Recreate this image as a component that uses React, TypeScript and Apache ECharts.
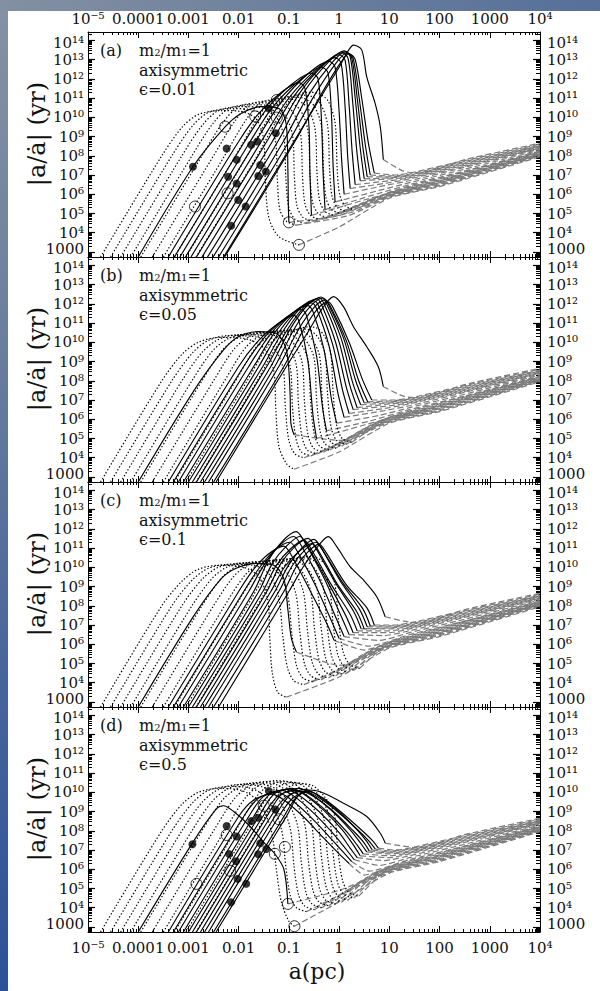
import React, { useEffect, useRef } from "react";
import * as echarts from "echarts";

// ---------- tick labels ----------
const X_TICK_LABELS = ["10⁻⁵", "0.0001", "0.001", "0.01", "0.1", "1", "10", "100", "1000", "10⁴"]; // log a = -5..4
const Y_TICK_LABELS = ["1000", "10⁴", "10⁵", "10⁶", "10⁷", "10⁸", "10⁹", "10¹⁰", "10¹¹", "10¹²", "10¹³", "10¹⁴"]; // log t = 3..14
const PANEL_LETTERS = ["(a)", "(b)", "(c)", "(d)"];
const PANEL_EPS = ["ϵ=0.01", "ϵ=0.05", "ϵ=0.1", "ϵ=0.5"];

// axis extents (log10 units)
const LOG_X_MIN = -5;
const LOG_X_MAX = 4;
const LOG_Y_MIN = 2.74;
const LOG_Y_MAX = 14.43;

// ---------- curves: flat lists of (log a, log |a/ȧ|) pairs ----------
const A_DOTTED = [
  [-4.75,2.74,-3.53,8.0,-3.12,9.5,-2.8,10.15,-2.35,10.35,-1.95,10.3,-1.65,9.9,-1.5,8.8,-1.47,6.8,-1.4,4.8,-1.2,3.8,-0.8,3.37],
  [-4.55,2.74,-3.33,8.0,-2.92,9.55,-2.6,10.25,-2.15,10.45,-1.75,10.4,-1.45,10.0,-1.27,8.8,-1.23,6.8,-1.18,5.2,-1.05,4.6,-0.85,4.4],
  [-4.35,2.74,-3.13,8.0,-2.72,9.6,-2.4,10.35,-1.95,10.55,-1.55,10.5,-1.27,10.1,-1.1,9.0,-1.06,6.8,-1.0,5.3,-0.88,4.7,-0.7,4.5],
  [-4.15,2.74,-2.93,8.0,-2.52,9.65,-2.2,10.45,-1.75,10.65,-1.38,10.6,-1.1,10.2,-0.93,9.1,-0.89,6.9,-0.84,5.4,-0.72,4.8,-0.55,4.6],
  [-3.95,2.74,-2.73,8.0,-2.32,9.7,-2.0,10.55,-1.55,10.75,-1.2,10.7,-0.93,10.3,-0.77,9.2,-0.73,7.0,-0.68,5.5,-0.57,4.9,-0.4,4.7],
  [-3.72,2.74,-2.5,8.0,-2.09,9.75,-1.78,10.65,-1.35,10.85,-1.03,10.8,-0.78,10.4,-0.62,9.3,-0.58,7.0,-0.53,5.6,-0.42,5.0,-0.25,4.8],
  [-3.5,2.74,-2.28,8.0,-1.87,9.8,-1.56,10.75,-1.15,10.95,-0.87,10.9,-0.63,10.5,-0.48,9.4,-0.44,7.1,-0.39,5.7,-0.28,5.1,-0.1,4.9],
  [-3.28,2.74,-2.06,8.0,-1.65,9.85,-1.34,10.85,-0.95,11.05,-0.72,11.0,-0.5,10.6,-0.35,9.5,-0.31,7.2,-0.26,5.8,-0.15,5.2,0.03,5.0],
  [-3.05,2.74,-1.83,8.0,-1.42,9.9,-1.12,10.95,-0.78,11.15,-0.57,11.1,-0.37,10.7,-0.23,9.6,-0.19,7.3,-0.14,5.9,-0.03,5.3,0.15,5.1],
  [-2.85,2.74,-1.63,8.0,-1.22,9.95,-0.92,11.05,-0.6,11.3,-0.42,11.25,-0.22,10.85,-0.08,9.7,-0.04,7.4,0.01,6.0,0.12,5.4,0.3,5.2],
];
const A_SOLID = [
  [-4.0,2.74,-2.91,7.43,-2.27,9.5,-1.95,10.2,-1.55,10.55,-1.2,10.45,-1.05,9.6,-1.02,7.3,-1.01,5.3,-1.0,4.54],
  [-3.4,2.74,-2.0,8.74,-1.6,10.2,-1.15,11.3,-0.8,11.8,-0.68,11.5,-0.6,9.5,-0.58,7.0,-0.55,4.9],
  [-3.28,2.74,-1.88,8.74,-1.45,10.4,-0.95,11.7,-0.55,12.3,-0.42,12.0,-0.35,9.8,-0.32,7.2,-0.28,5.2],
  [-3.17,2.74,-1.77,8.74,-1.3,10.6,-0.75,12.0,-0.35,12.6,-0.22,12.3,-0.15,10.0,-0.12,7.5,-0.08,5.6],
  [-3.06,2.74,-1.66,8.74,-1.15,10.8,-0.6,12.3,-0.2,12.9,-0.08,12.6,0.0,10.3,0.05,7.8,0.1,6.0],
  [-2.95,2.74,-1.55,8.74,-1.0,11.0,-0.45,12.5,-0.08,13.1,0.04,12.8,0.12,10.5,0.17,8.0,0.22,6.3],
  [-2.84,2.74,-1.44,8.74,-0.9,11.1,-0.35,12.65,0.0,13.25,0.12,12.95,0.2,10.6,0.26,8.2,0.32,6.5],
  [-2.73,2.74,-1.33,8.74,-0.8,11.2,-0.28,12.8,0.06,13.35,0.18,13.05,0.27,10.8,0.35,8.3,0.42,6.7],
  [-2.62,2.74,-1.22,8.74,-0.7,11.3,-0.2,12.9,0.1,13.45,0.22,13.15,0.32,11.0,0.42,8.4,0.5,6.8],
  [-2.51,2.74,-1.11,8.74,-0.6,11.2,-0.12,12.9,0.13,13.4,0.25,13.1,0.36,11.0,0.47,8.5,0.56,6.9],
  [-2.4,2.74,-1.0,8.74,-0.5,11.1,-0.05,12.85,0.16,13.35,0.28,13.05,0.4,11.0,0.52,8.6,0.62,7.0],
  [-2.28,2.74,-0.88,8.74,-0.4,11.0,0.02,12.8,0.2,13.3,0.32,13.0,0.45,11.0,0.58,8.7,0.7,7.1],
  [-2.3,2.74,-0.9,8.74,-0.4,10.9,0.0,12.6,0.18,13.45,0.285,13.75,0.45,13.5,0.55,12.1,0.72,10.7,0.82,9.5,0.88,7.8],
];
const A_FILLED = [[-2.91,7.43],[-2.24,8.38],[-2.04,7.79],[-1.75,8.57],[-1.63,8.74],[-2.21,6.91],[-2.04,6.56],[-2.01,5.7],[-1.86,5.36],[-2.15,4.36],[-1.57,7.52],[-1.46,7.18],[-1.61,6.95],[-1.4,10.45],[-1.26,9.17]];
const A_OPEN = [[-2.27,9.51],[-2.87,5.36],[-2.22,6.05],[-1.67,10.04],[-1.24,9.98],[-1.24,10.9],[-1.0,4.54],[-0.8,3.37]];

const B_DOTTED = [
  [-4.75,2.74,-3.53,8.0,-3.12,9.4,-2.8,10.0,-2.4,10.25,-1.9,10.2,-1.5,9.7,-1.3,8.5,-1.26,6.5,-1.2,4.6,-1.05,3.7,-0.9,3.4],
  [-4.55,2.74,-3.33,8.0,-2.92,9.45,-2.6,10.1,-2.2,10.35,-1.7,10.3,-1.35,9.9,-1.12,8.7,-1.07,6.6,-1.0,4.9,-0.88,4.2,-0.7,4.0],
  [-4.35,2.74,-3.13,8.0,-2.72,9.5,-2.4,10.15,-2.0,10.4,-1.5,10.35,-1.2,9.95,-0.98,8.8,-0.93,6.7,-0.86,5.0,-0.75,4.3,-0.55,4.1],
  [-4.15,2.74,-2.93,8.0,-2.52,9.55,-2.2,10.2,-1.8,10.45,-1.35,10.4,-1.07,10.0,-0.86,8.9,-0.81,6.8,-0.74,5.1,-0.63,4.4,-0.43,4.2],
  [-3.95,2.74,-2.73,8.0,-2.32,9.6,-2.0,10.25,-1.6,10.5,-1.2,10.45,-0.94,10.05,-0.74,9.0,-0.69,6.9,-0.62,5.2,-0.51,4.5,-0.3,4.3],
  [-3.72,2.74,-2.5,8.0,-2.09,9.65,-1.78,10.3,-1.4,10.55,-1.05,10.5,-0.81,10.1,-0.62,9.1,-0.57,7.0,-0.5,5.3,-0.39,4.6,-0.18,4.4],
  [-3.5,2.74,-2.28,8.0,-1.87,9.7,-1.56,10.35,-1.2,10.6,-0.9,10.55,-0.68,10.15,-0.5,9.2,-0.45,7.1,-0.38,5.4,-0.27,4.7,-0.06,4.5],
  [-3.28,2.74,-2.06,8.0,-1.65,9.75,-1.34,10.4,-1.0,10.65,-0.75,10.6,-0.55,10.2,-0.39,9.3,-0.34,7.2,-0.27,5.5,-0.16,4.8,0.05,4.6],
  [-3.05,2.74,-1.83,8.0,-1.42,9.8,-1.12,10.45,-0.8,10.7,-0.6,10.65,-0.42,10.25,-0.28,9.4,-0.23,7.3,-0.16,5.6,-0.05,4.9,0.15,4.7],
  [-2.85,2.74,-1.63,8.0,-1.22,9.85,-0.92,10.55,-0.62,10.8,-0.45,10.75,-0.3,10.35,-0.17,9.5,-0.12,7.4,-0.05,5.7,0.06,5.0,0.25,4.8],
];
const B_SOLID = [
  [-4.0,2.74,-2.9,7.45,-2.3,9.6,-2.0,10.3,-1.6,10.55,-1.25,10.45,-1.05,9.6,-0.98,7.6,-0.96,5.8,-0.9,5.2],
  [-3.4,2.74,-2.0,8.74,-1.6,10.1,-1.2,11.0,-0.9,11.4,-0.8,11.1,-0.62,9.0,-0.52,6.2,-0.45,5.0],
  [-3.3,2.74,-1.9,8.74,-1.47,10.3,-1.05,11.3,-0.75,11.7,-0.65,11.4,-0.45,9.3,-0.33,6.6,-0.25,5.4],
  [-3.2,2.74,-1.8,8.74,-1.36,10.45,-0.94,11.5,-0.62,11.9,-0.52,11.6,-0.3,9.6,-0.15,7.0,-0.05,5.8],
  [-3.1,2.74,-1.7,8.74,-1.27,10.55,-0.86,11.65,-0.55,12.05,-0.45,11.75,-0.2,9.8,-0.02,7.3,0.1,6.1],
  [-3.0,2.74,-1.6,8.74,-1.18,10.6,-0.8,11.75,-0.5,12.15,-0.4,11.85,-0.13,9.9,0.07,7.5,0.2,6.3],
  [-2.92,2.74,-1.52,8.74,-1.1,10.65,-0.74,11.85,-0.45,12.25,-0.35,11.95,-0.07,10.0,0.14,7.7,0.28,6.5],
  [-2.84,2.74,-1.44,8.74,-1.02,10.7,-0.67,11.9,-0.4,12.3,-0.3,12.0,-0.01,10.1,0.21,7.8,0.36,6.6],
  [-2.76,2.74,-1.36,8.74,-0.96,10.75,-0.62,11.95,-0.36,12.35,-0.26,12.05,0.04,10.2,0.27,7.9,0.43,6.75],
  [-2.68,2.74,-1.28,8.74,-0.88,10.75,-0.56,11.9,-0.32,12.3,-0.22,12.0,0.09,10.2,0.33,8.0,0.5,6.85],
  [-2.6,2.74,-1.2,8.74,-0.8,10.7,-0.5,11.8,-0.28,12.2,-0.18,11.9,0.14,10.1,0.39,8.0,0.57,6.9],
  [-2.5,2.74,-1.1,8.74,-0.72,10.6,-0.44,11.7,-0.22,12.1,-0.12,11.8,0.2,10.0,0.46,8.1,0.65,7.0],
  [-2.45,2.74,-1.05,8.74,-0.65,10.4,-0.35,11.7,-0.11,12.37,0.086,11.85,0.286,10.81,0.55,9.77,0.78,8.73,0.88,7.69],
];

const C_DOTTED = [
  [-4.75,2.74,-3.53,8.0,-3.12,9.3,-2.8,9.9,-2.4,10.1,-1.9,10.0,-1.6,9.5,-1.42,8.3,-1.38,6.3,-1.33,4.5,-1.22,3.5,-1.05,3.25],
  [-4.55,2.74,-3.33,8.0,-2.92,9.35,-2.6,9.95,-2.2,10.15,-1.7,10.1,-1.38,9.6,-1.2,8.4,-1.12,6.4,-1.03,4.8,-0.9,4.1,-0.7,3.9],
  [-4.35,2.74,-3.13,8.0,-2.72,9.4,-2.4,10.0,-2.0,10.2,-1.5,10.15,-1.2,9.7,-1.02,8.5,-0.94,6.5,-0.85,4.9,-0.72,4.25,-0.52,4.05],
  [-4.15,2.74,-2.93,8.0,-2.52,9.45,-2.2,10.05,-1.8,10.25,-1.33,10.2,-1.05,9.75,-0.86,8.6,-0.78,6.6,-0.69,5.0,-0.56,4.35,-0.36,4.15],
  [-3.95,2.74,-2.73,8.0,-2.32,9.5,-2.0,10.1,-1.6,10.3,-1.17,10.25,-0.9,9.8,-0.71,8.7,-0.63,6.7,-0.54,5.1,-0.41,4.45,-0.21,4.25],
  [-3.72,2.74,-2.5,8.0,-2.09,9.55,-1.78,10.15,-1.4,10.35,-1.02,10.3,-0.76,9.85,-0.57,8.8,-0.49,6.8,-0.4,5.2,-0.27,4.55,-0.07,4.35],
  [-3.5,2.74,-2.28,8.0,-1.87,9.6,-1.56,10.2,-1.2,10.4,-0.87,10.35,-0.62,9.9,-0.44,8.9,-0.36,6.9,-0.27,5.3,-0.14,4.65,0.06,4.45],
  [-3.28,2.74,-2.06,8.0,-1.65,9.65,-1.34,10.25,-1.0,10.45,-0.72,10.4,-0.49,9.95,-0.32,9.0,-0.24,7.0,-0.15,5.4,-0.02,4.75,0.18,4.55],
  [-3.05,2.74,-1.83,8.0,-1.42,9.7,-1.12,10.3,-0.82,10.5,-0.58,10.45,-0.37,10.0,-0.2,9.1,-0.12,7.1,-0.03,5.5,0.1,4.85,0.3,4.65],
  [-2.85,2.74,-1.63,8.0,-1.22,9.75,-0.92,10.35,-0.65,10.55,-0.44,10.5,-0.25,10.05,-0.09,9.2,-0.01,7.2,0.08,5.6,0.21,4.95,0.41,4.75],
];
const C_SOLID = [
  [-4.0,2.74,-2.9,7.45,-2.35,9.4,-2.05,9.95,-1.65,10.2,-1.3,10.1,-1.1,9.4,-1.02,7.8,-0.95,6.3,-0.85,5.6],
  [-3.4,2.74,-2.0,8.74,-1.7,9.9,-1.4,10.7,-1.1,11.1,-0.98,10.75,-0.6,8.9,-0.25,7.1,-0.1,6.2],
  [-3.3,2.74,-1.9,8.74,-1.58,10.0,-1.28,10.9,-0.98,11.3,-0.86,10.95,-0.48,9.1,-0.15,7.2,0.0,6.3],
  [-3.2,2.74,-1.8,8.74,-1.5,10.1,-1.2,11.1,-0.9,11.6,-0.78,11.25,-0.4,9.4,-0.05,7.3,0.1,6.4],
  [-3.1,2.74,-1.7,8.74,-1.42,10.3,-1.13,11.35,-0.85,11.85,-0.73,11.5,-0.33,9.6,0.05,7.4,0.2,6.5],
  [-3.0,2.74,-1.6,8.74,-1.33,10.2,-1.05,11.1,-0.78,11.6,-0.66,11.25,-0.26,9.4,0.13,7.5,0.28,6.6],
  [-2.92,2.74,-1.52,8.74,-1.25,10.1,-0.97,10.95,-0.7,11.41,-0.58,11.05,-0.18,9.2,0.21,7.6,0.36,6.7],
  [-2.84,2.74,-1.44,8.74,-1.17,10.15,-0.89,11.05,-0.62,11.5,-0.5,11.15,-0.1,9.3,0.29,7.7,0.44,6.8],
  [-2.76,2.74,-1.36,8.74,-1.09,10.0,-0.81,10.8,-0.54,11.23,-0.42,10.9,-0.03,9.1,0.35,7.7,0.5,6.8],
  [-2.68,2.74,-1.28,8.74,-1.01,10.1,-0.74,11.0,-0.5,11.45,-0.38,11.1,0.02,9.3,0.41,7.8,0.56,6.9],
  [-2.6,2.74,-1.2,8.74,-0.94,10.05,-0.68,10.9,-0.46,11.3,-0.34,10.95,0.07,9.2,0.47,7.85,0.62,6.95],
  [-2.5,2.74,-1.1,8.74,-0.86,10.0,-0.62,10.8,-0.4,11.2,-0.28,10.85,0.14,9.1,0.55,7.9,0.7,7.0],
  [-2.4,2.74,-1.0,8.74,-0.72,10.0,-0.45,11.0,-0.213,11.59,-0.047,11.07,0.219,10.03,0.485,9.34,0.75,8.47,0.917,7.43],
];

const D_DOTTED = [
  [-4.75,2.74,-3.53,8.0,-3.12,9.4,-2.8,10.0,-2.4,10.2,-1.95,10.1,-1.6,9.5,-1.35,8.0,-1.25,6.0,-1.15,4.3,-1.0,3.3,-0.89,3.04],
  [-4.55,2.74,-3.33,8.0,-2.92,9.45,-2.6,10.1,-2.2,10.3,-1.75,10.2,-1.4,9.6,-1.15,8.1,-1.06,6.1,-0.97,4.6,-0.85,4.0,-0.65,3.8],
  [-4.35,2.74,-3.13,8.0,-2.72,9.5,-2.4,10.15,-2.0,10.4,-1.55,10.3,-1.22,9.7,-0.98,8.2,-0.9,6.2,-0.81,4.7,-0.69,4.1,-0.49,3.9],
  [-4.15,2.74,-2.93,8.0,-2.52,9.55,-2.2,10.2,-1.85,10.45,-1.4,10.35,-1.08,9.75,-0.83,8.3,-0.75,6.3,-0.66,4.8,-0.54,4.2,-0.34,4.0],
  [-3.95,2.74,-2.73,8.0,-2.32,9.6,-2.0,10.25,-1.68,10.5,-1.25,10.4,-0.94,9.8,-0.69,8.4,-0.61,6.4,-0.52,4.9,-0.4,4.3,-0.2,4.1],
  [-3.72,2.74,-2.5,8.0,-2.09,9.65,-1.8,10.3,-1.5,10.55,-1.1,10.45,-0.8,9.85,-0.56,8.5,-0.48,6.5,-0.39,5.0,-0.27,4.4,-0.07,4.2],
  [-3.5,2.74,-2.28,8.0,-1.87,9.7,-1.6,10.35,-1.3,10.6,-0.95,10.5,-0.66,9.9,-0.43,8.6,-0.35,6.6,-0.26,5.1,-0.14,4.5,0.06,4.3],
  [-3.28,2.74,-2.06,8.0,-1.65,9.75,-1.4,10.35,-1.12,10.55,-0.8,10.45,-0.53,9.9,-0.31,8.7,-0.23,6.7,-0.14,5.2,-0.02,4.6,0.18,4.4],
  [-3.05,2.74,-1.83,8.0,-1.42,9.8,-1.2,10.3,-0.95,10.5,-0.66,10.4,-0.41,9.85,-0.2,8.8,-0.12,6.8,-0.03,5.3,0.09,4.7,0.29,4.5],
  [-2.85,2.74,-1.63,8.0,-1.22,9.85,-1.02,10.25,-0.8,10.45,-0.53,10.35,-0.3,9.8,-0.1,8.9,-0.02,6.9,0.07,5.4,0.19,4.8,0.39,4.6],
];
const D_SOLID = [
  [-4.0,2.74,-2.9,7.45,-2.44,9.15,-2.3,9.3,-2.1,9.0,-1.8,8.3,-1.5,7.4,-1.28,6.8,-1.1,6.0,-1.02,4.2],
  [-3.4,2.74,-2.0,8.74,-1.7,9.6,-1.35,9.9,-1.1,9.6,-0.7,8.7,-0.3,7.6,0.0,6.8,0.2,6.3],
  [-3.3,2.74,-1.9,8.74,-1.6,9.7,-1.25,10.0,-1.0,9.7,-0.6,8.8,-0.2,7.7,0.08,6.9,0.25,6.4],
  [-3.2,2.74,-1.8,8.74,-1.5,9.8,-1.15,10.1,-0.9,9.8,-0.5,8.9,-0.1,7.8,0.15,7.0,0.3,6.5],
  [-3.1,2.74,-1.7,8.74,-1.4,9.85,-1.05,10.15,-0.8,9.85,-0.4,9.0,0.0,7.9,0.22,7.1,0.36,6.6],
  [-3.0,2.74,-1.6,8.74,-1.3,9.9,-0.95,10.2,-0.7,9.9,-0.3,9.05,0.08,8.0,0.3,7.2,0.42,6.7],
  [-2.92,2.74,-1.52,8.74,-1.22,9.8,-0.87,10.1,-0.62,9.8,-0.22,8.95,0.15,7.95,0.36,7.25,0.48,6.8],
  [-2.84,2.74,-1.44,8.74,-1.14,9.9,-0.8,10.2,-0.55,9.9,-0.15,9.05,0.22,8.05,0.43,7.35,0.55,6.9],
  [-2.76,2.74,-1.36,8.74,-1.06,9.75,-0.74,10.05,-0.49,9.75,-0.09,8.95,0.28,8.0,0.49,7.4,0.6,6.95],
  [-2.68,2.74,-1.28,8.74,-0.98,9.85,-0.68,10.15,-0.43,9.85,-0.03,9.05,0.34,8.1,0.55,7.45,0.66,7.0],
  [-2.6,2.74,-1.2,8.74,-0.92,9.7,-0.64,10.0,-0.39,9.7,0.01,8.9,0.39,8.0,0.6,7.45,0.72,7.05],
  [-2.5,2.74,-1.1,8.74,-0.85,9.75,-0.6,10.05,-0.35,9.75,0.05,8.95,0.44,8.05,0.66,7.5,0.78,7.1],
  [-2.45,2.74,-1.05,8.74,-0.82,9.8,-0.58,10.12,-0.3,9.95,0.087,9.43,0.55,8.74,0.82,7.87,0.92,7.35],
];
const D_FILLED = [[-1.4,10.07],[-1.27,9.1],[-2.24,8.25],[-2.04,7.7],[-2.92,7.3],[-2.19,6.79],[-2.05,6.42],[-2.02,5.5],[-1.85,5.25],[-2.15,4.28],[-1.75,8.5],[-1.61,8.68],[-1.57,7.35],[-1.45,7.05],[-1.61,6.78]];
const D_OPEN = [[-2.24,7.78],[-2.84,5.24],[-2.17,5.92],[-1.08,7.16],[-1.28,6.8],[-1.02,4.2],[-0.89,3.04],[-1.5,9.3],[-1.2,8.6]];

// gray dashed continuations (after each curve's last point); first 10 follow dotted curves, next 13 solid curves
const TAILS = [
  [0.0,4.3,1.0,5.8,2.0,6.4,4.0,7.95],
  [0.2,4.9,1.0,5.85,2.0,6.45,4.0,8.0],
  [0.3,5.1,1.0,5.9,2.0,6.5,4.0,8.0],
  [0.4,5.3,1.1,6.0,2.0,6.55,4.0,8.05],
  [0.5,5.5,1.2,6.1,2.0,6.6,4.0,8.1],
  [0.6,5.65,1.3,6.2,2.0,6.65,4.0,8.1],
  [0.7,5.8,1.4,6.3,2.0,6.7,4.0,8.15],
  [0.8,5.9,1.4,6.35,2.0,6.75,4.0,8.2],
  [0.9,6.0,1.5,6.45,2.0,6.8,4.0,8.2],
  [1.0,6.1,1.5,6.5,2.0,6.85,4.0,8.25],
  [0.0,4.9,1.0,5.95,2.0,6.6,4.0,8.05],
  [0.5,5.7,1.0,6.05,2.0,6.7,4.0,8.1],
  [0.6,5.9,1.4,6.5,2.5,7.2,4.0,8.2],
  [0.8,6.2,1.4,6.6,2.5,7.3,4.0,8.3],
  [0.9,6.45,1.4,6.7,2.5,7.4,4.0,8.35],
  [1.0,6.6,1.4,6.8,2.5,7.45,4.0,8.4],
  [1.0,6.7,1.4,6.85,2.5,7.5,4.0,8.4],
  [1.0,6.8,1.4,6.9,2.5,7.55,4.0,8.45],
  [1.0,6.85,1.4,6.95,2.5,7.6,4.0,8.5],
  [1.0,6.9,1.4,7.0,2.5,7.65,4.0,8.5],
  [1.0,6.95,1.4,7.05,2.5,7.7,4.0,8.55],
  [1.1,7.0,1.4,7.1,2.5,7.75,4.0,8.6],
  [1.28,7.2,1.6,7.1,2.5,7.8,4.0,8.65],
];

const PANELS = [
  { dotted: A_DOTTED, solid: A_SOLID, filled: A_FILLED, open: A_OPEN },
  { dotted: B_DOTTED, solid: B_SOLID, filled: [], open: [] },
  { dotted: C_DOTTED, solid: C_SOLID, filled: [], open: [] },
  { dotted: D_DOTTED, solid: D_SOLID, filled: D_FILLED, open: D_OPEN },
];

// ---------- layout ----------
const SERIF = '"DejaVu Serif", "Liberation Serif", serif';
const GRID_LEFT = 88;
const GRID_WIDTH = 452;
const GRID_TOPS = [32, 257, 482, 707];
const GRID_HEIGHT = 225;

const MAJOR_X: number[] = [];
const MINOR_X: number[] = [];
for (let n = LOG_X_MIN; n <= LOG_X_MAX; n++) {
  MAJOR_X.push(n);
  if (n < LOG_X_MAX) for (let k = 2; k <= 9; k++) MINOR_X.push(n + Math.log10(k));
}
const MAJOR_Y: number[] = [];
const MINOR_Y: number[] = [];
for (let n = 2; n <= 14; n++) {
  if (n >= 3) MAJOR_Y.push(n);
  for (let k = 2; k <= 9; k++) {
    const v = n + Math.log10(k);
    if (v > LOG_Y_MIN && v < LOG_Y_MAX) MINOR_Y.push(v);
  }
}

const pairs = (flat: number[]) => {
  const out: number[][] = [];
  for (let i = 0; i < flat.length; i += 2) out.push([flat[i], flat[i + 1]]);
  return out;
};

function buildOption() {
  const grid: any[] = [];
  const xAxis: any[] = [];
  const yAxis: any[] = [];
  const series: any[] = [];
  const graphic: any[] = [];

  const lineCol = "#000";
  const xLab = (pos: string, show: boolean) => ({
    show,
    customValues: MAJOR_X,
    formatter: (v: number) => X_TICK_LABELS[Math.round(v) - LOG_X_MIN],
    color: "#111",
    fontFamily: SERIF,
    fontSize: 15,
    lineHeight: 15,
    margin: pos === "top" ? 6 : 8,
  });
  const yLab = (pos: string) => ({
    show: true,
    customValues: MAJOR_Y,
    formatter: (v: number) => {
      const i = Math.round(v);
      const s = Y_TICK_LABELS[i - 3];
      if (i === 3) return "{lo|" + s + "}";
      if (i === 14) return "{hi|" + s + "}";
      return s;
    },
    color: "#111",
    fontFamily: SERIF,
    fontSize: 15,
    lineHeight: 14,
    margin: pos === "left" ? 4 : 7,
    rich: {
      lo: { fontSize: 15, fontFamily: SERIF, color: "#111", lineHeight: 14, padding: [0, 0, 5, 0] },
      hi: { fontSize: 15, fontFamily: SERIF, color: "#111", lineHeight: 14, padding: [5, 0, 0, 0] },
    },
  });

  GRID_TOPS.forEach((top, gi) => {
    grid.push({ left: GRID_LEFT, top, width: GRID_WIDTH, height: GRID_HEIGHT, containLabel: false });
    const baseX = { gridIndex: gi, type: "value", min: LOG_X_MIN, max: LOG_X_MAX, splitLine: { show: false } };
    const baseY = { gridIndex: gi, type: "value", min: LOG_Y_MIN, max: LOG_Y_MAX, splitLine: { show: false } };
    (["bottom", "top"] as const).forEach((pos) => {
      const showLab = (pos === "top" && gi === 0) || (pos === "bottom" && gi === 3);
      xAxis.push({
        ...baseX, position: pos,
        axisLine: { show: true, onZero: false, lineStyle: { color: lineCol, width: 1 } },
        axisTick: { show: true, inside: true, length: 6, customValues: MAJOR_X, lineStyle: { color: lineCol, width: 1 } },
        axisLabel: xLab(pos, showLab),
      });
      xAxis.push({
        ...baseX, position: pos,
        axisLine: { show: false, onZero: false },
        axisTick: { show: true, inside: true, length: 3, customValues: MINOR_X, lineStyle: { color: lineCol, width: 1 } },
        axisLabel: { show: false },
      });
    });
    (["left", "right"] as const).forEach((pos) => {
      yAxis.push({
        ...baseY, position: pos,
        axisLine: { show: true, onZero: false, lineStyle: { color: lineCol, width: 1 } },
        axisTick: { show: true, inside: true, length: 7, customValues: MAJOR_Y, lineStyle: { color: lineCol, width: 1.2 } },
        axisLabel: yLab(pos),
      });
      yAxis.push({
        ...baseY, position: pos,
        axisLine: { show: false, onZero: false },
        axisTick: { show: true, inside: true, length: 4, customValues: MINOR_Y, lineStyle: { color: lineCol, width: 1 } },
        axisLabel: { show: false },
      });
    });

    const p = PANELS[gi];
    const axisIdx = { xAxisIndex: gi * 4, yAxisIndex: gi * 4 };
    const curves = [
      ...p.dotted.map((c) => ({ c, dotted: true })),
      ...p.solid.map((c) => ({ c, dotted: false })),
    ];
    curves.forEach(({ c, dotted }, k) => {
      const pts = pairs(c);
      const last = pts[pts.length - 1];
      series.push({
        type: "line", ...axisIdx, silent: true, symbol: "none", smooth: 0.2, z: 2,
        data: [last, ...pairs(TAILS[k])],
        lineStyle: { color: "#7a7a7a", width: 1.2, type: [6, 3] },
      });
      series.push({
        type: "line", ...axisIdx, silent: true, symbol: "none", smooth: 0.3, z: 3,
        data: pts,
        lineStyle: dotted ? { color: "#000", width: 1.2, type: [1.4, 2] } : { color: "#000", width: 1.15 },
      });
    });
    if (p.open.length) {
      series.push({
        type: "scatter", ...axisIdx, silent: true, symbol: "circle", symbolSize: 11, z: 5,
        data: p.open,
        itemStyle: { color: "rgba(255,255,255,0)", borderColor: "#000", borderWidth: 1 },
      });
    }
    if (p.filled.length) {
      series.push({
        type: "scatter", ...axisIdx, silent: true, symbol: "circle", symbolSize: 8, z: 6,
        data: p.filled,
        itemStyle: { color: "#000" },
      });
    }

    // y-axis title
    graphic.push({
      type: "text", x: 37, y: top + 102, rotation: Math.PI / 2, silent: true,
      style: { text: "|a/ȧ| (yr)", fontSize: 24, fontFamily: SERIF, fill: "#111", align: "center", verticalAlign: "middle", textAlign: "center", textVerticalAlign: "middle" },
    });
    // panel annotation
    const txt = (x: number, y: number, s: string, extra: any = {}) => ({
      type: "text", x, y, silent: true,
      style: { text: s, fontSize: 16, lineHeight: 14, fontFamily: SERIF, fill: "#111", align: "left", verticalAlign: "middle", textAlign: "left", textVerticalAlign: "middle", ...extra },
    });
    graphic.push(txt(100, top + 18, PANEL_LETTERS[gi]));
    graphic.push(txt(139, top + 18, "m{s|2}/m{s|1}=1", {
      lineHeight: 15,
      rich: { s: { fontSize: 10, fontFamily: SERIF, fill: "#111", verticalAlign: "bottom", lineHeight: 7 } },
    }));
    graphic.push(txt(139, top + 38, "axisymmetric"));
    graphic.push(txt(139, top + 57, PANEL_EPS[gi]));
  });

  graphic.push({
    type: "text", x: 317, y: 971, silent: true,
    style: { text: "a(pc)", fontSize: 22, fontFamily: SERIF, fill: "#111", align: "center", verticalAlign: "middle", textAlign: "center", textVerticalAlign: "middle" },
  });

  return { animation: false, backgroundColor: "transparent", grid, xAxis, yAxis, series, graphic };
}

export default function App() {
  const ref = useRef<HTMLDivElement>(null);
  useEffect(() => {
    if (!ref.current) return;
    const chart = echarts.init(ref.current, null, { renderer: "svg" });
    chart.setOption(buildOption() as any);
    return () => chart.dispose();
  }, []);
  return (
    <div style={{ position: "absolute", left: 0, top: 0, width: 600, height: 991, overflow: "hidden", background: "linear-gradient(180deg, #8592a5 0%, #6f819e 30%, #45649a 70%, #2c5196 100%)" }}>
      <div style={{ position: "absolute", left: 0, top: 0, width: 600, height: 11, background: "linear-gradient(90deg, #8390a3 0%, #6c7f9c 50%, #56709a 100%)" }} />
      <div style={{ position: "absolute", left: 8, top: 11, width: 592, height: 980, background: "#ffffff" }} />
      <div ref={ref} style={{ position: "absolute", left: 0, top: 0, width: 600, height: 991 }} />
    </div>
  );
}
